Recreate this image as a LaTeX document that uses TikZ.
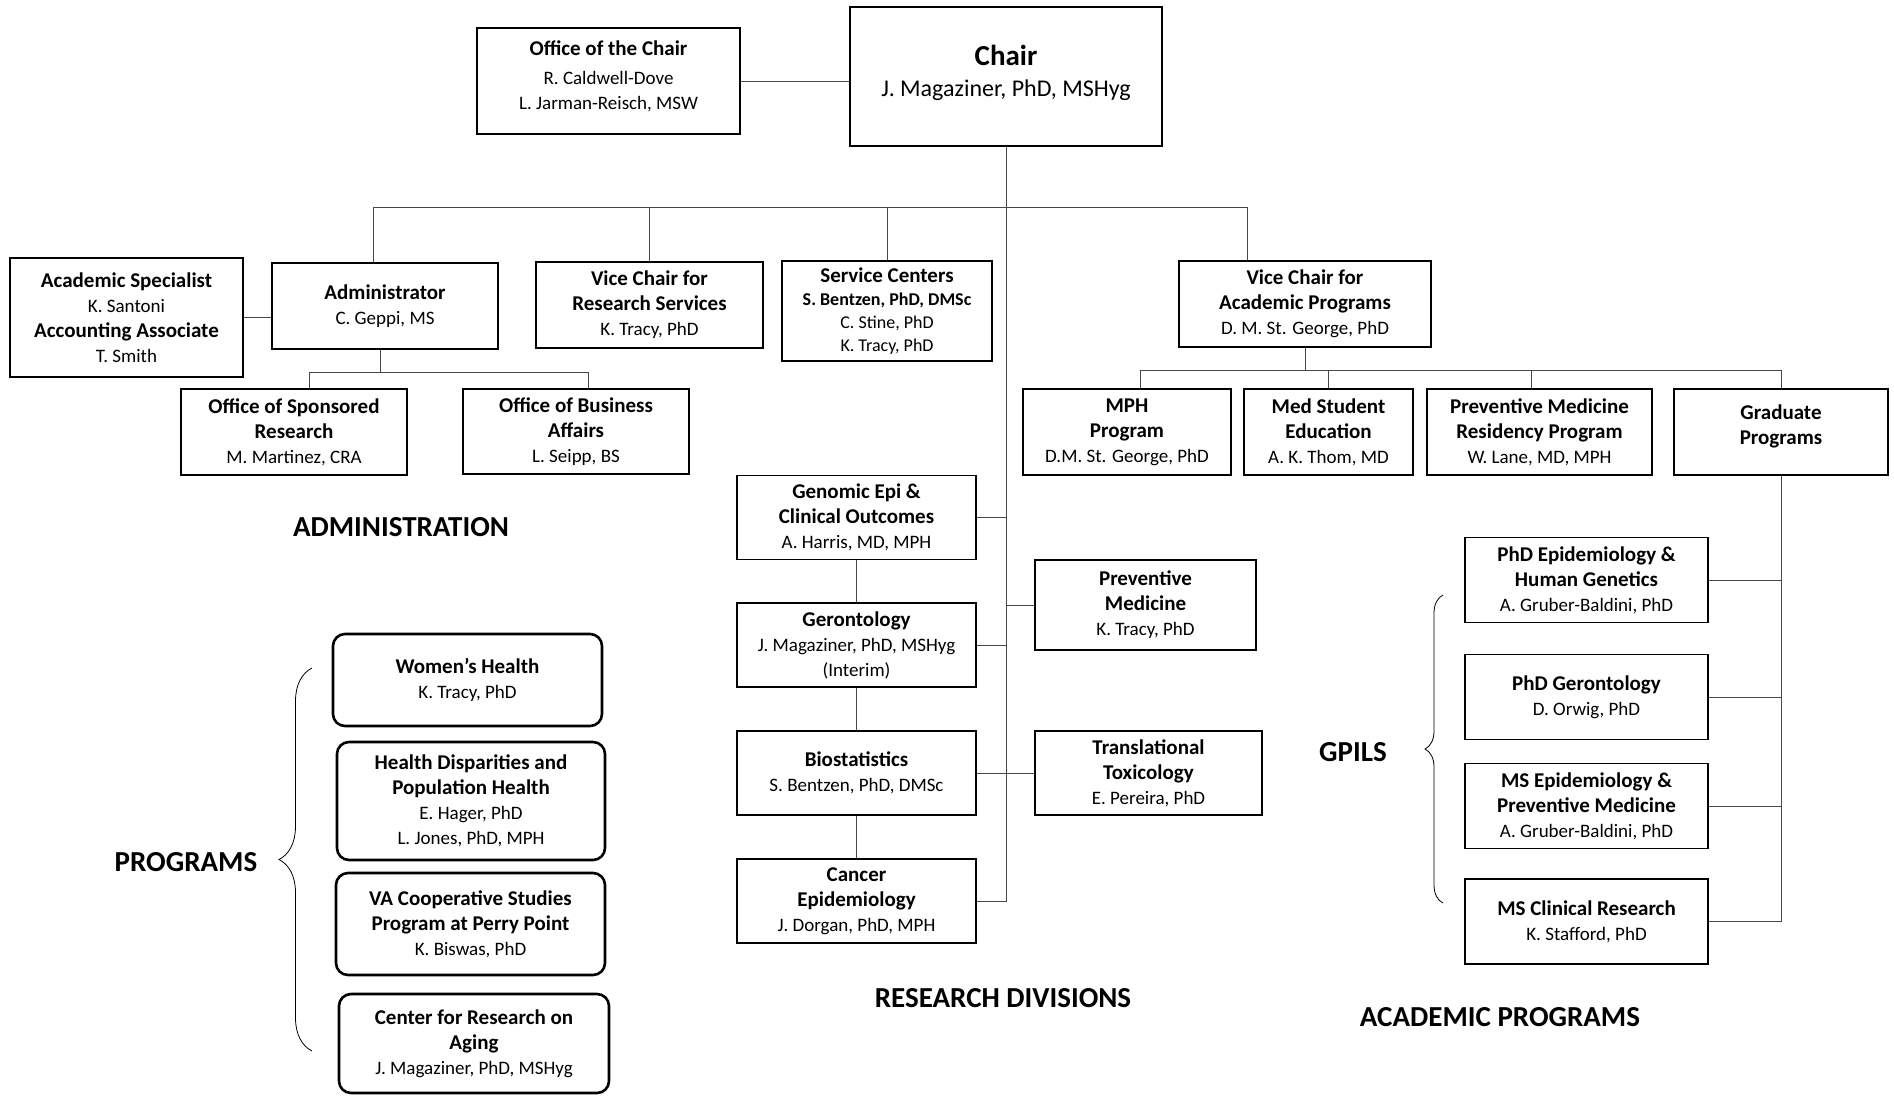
\documentclass[tikz,border=0pt]{standalone}
\usepackage{fontspec}
\setmainfont{Carlito}
\usetikzlibrary{decorations.pathreplacing}
\newcommand{\ttl}[1]{{\fontsize{21}{25}\selectfont\bfseries #1}}
\newcommand{\lift}[1]{\rule[-#1pt]{0pt}{0pt}}

\begin{document}
\begin{tikzpicture}[
    x=1pt, y=-1pt,
    line width=1pt,
    link/.style={%
      draw=black!72,
    },
    box/.style={%
      draw,
      rectangle,
      line width=1.3pt,
      align=center,
      inner sep=0pt,
      font=\fontsize{19}{25}\selectfont,
    },
    wh/.style 2 args={%
      minimum width=#1pt,
      minimum height=#2pt,
    },
    div/.style={%
      box,
      wh={239}{84},
    },
    grad/.style={%
      box,
      wh={243}{85},
    },
    prog/.style={%
      box,
      rounded corners=12pt,
      line width=2.6pt,
    },
    sect/.style={%
      font=\fontsize{29}{34}\selectfont\bfseries,
    },
    curly/.style={%
      decorate,
      line width=0.8pt,
      decoration={brace, amplitude=#1},
    },
  ]

    \useasboundingbox (0,0) rectangle (1894,1096);

    \node [box, wh={263}{106}] (office) at (608.5,81) {\ttl{Office of the Chair}\\[4pt]R. Caldwell-Dove\\L. Jarman-Reisch, MSW\lift{12}};
    \node [box, wh={312}{139}, font=\fontsize{24}{31}\selectfont] (chair) at (1006,76.5) {{\fontsize{29}{34}\selectfont\bfseries Chair}\\J. Magaziner, PhD, MSHyg\lift{12}};

    \node [box, wh={233}{119}, line width=2.6pt] (acadspec) at (126.5,317.5) {\ttl{Academic Specialist}\\K. Santoni\\\ttl{Accounting Associate}\\T. Smith};
    \node [box, wh={226}{86}] (admin) at (385,306) {\ttl{Administrator}\\C. Geppi, MS};
    \node [box, wh={227}{86}] (vcres) at (649.5,305) {\ttl{Vice Chair for}\\\ttl{Research Services}\\K. Tracy, PhD};
    \node [box, wh={210}{100}, font=\fontsize{18}{23}\selectfont] (service) at (887,311) {\ttl{Service Centers}\\{\bfseries S. Bentzen, PhD, DMSc}\\C. Stine, PhD\\K. Tracy, PhD};
    \node [box, wh={252}{86}] (vcacad) at (1305,304) {\ttl{Vice Chair for}\\\ttl{Academic Programs}\\D. M. St. George, PhD};

    \node [box, wh={226}{86}] (osr) at (294,432) {\ttl{Office of Sponsored}\\\ttl{Research}\\M. Martinez, CRA};
    \node [box, wh={226}{85}] (oba) at (576,431.5) {\ttl{Office of Business}\\\ttl{Affairs}\\L. Seipp, BS};

    \node [box, wh={208}{86}] (mph) at (1127,432) {\ttl{MPH}\\\ttl{Program}\\D.M. St. George, PhD};
    \node [box, wh={169}{86}] (med) at (1328.5,432) {\ttl{Med Student}\\\ttl{Education}\\A. K. Thom, MD};
    \node [box, wh={225}{86}] (resid) at (1539.5,432) {\ttl{Preventive Medicine}\\\ttl{Residency Program}\\W. Lane, MD, MPH};
    \node [box, wh={214}{86}] (gradprog) at (1781,432) {\ttl{Graduate}\\\ttl{Programs}\lift{14}};

    \node [div] (genomic) at (856.5,517.5) {\ttl{Genomic Epi \&}\\\ttl{Clinical Outcomes}\\A. Harris, MD, MPH};
    \node [div] (geron) at (856.5,645) {\ttl{Gerontology}\\J. Magaziner, PhD, MSHyg\\(Interim)};
    \node [div] (biostat) at (856.5,773) {\ttl{Biostatistics}\\S. Bentzen, PhD, DMSc};
    \node [div] (cancer) at (856.5,901) {\ttl{Cancer}\\\ttl{Epidemiology}\\J. Dorgan, PhD, MPH};
    \node [box, wh={221}{90}] (prevmed) at (1145.5,605) {\ttl{Preventive}\\\ttl{Medicine}\\K. Tracy, PhD};
    \node [box, wh={227}{84}] (transl) at (1148.5,773) {\ttl{Translational}\\\ttl{Toxicology}\\E. Pereira, PhD};

    \node [grad] (phdepi) at (1586.5,580) {\ttl{PhD Epidemiology \&}\\\ttl{Human Genetics}\\A. Gruber-Baldini, PhD};
    \node [grad] (phdger) at (1586.5,697) {\ttl{PhD Gerontology}\\D. Orwig, PhD};
    \node [grad] (msepi) at (1586.5,806) {\ttl{MS Epidemiology \&}\\\ttl{Preventive Medicine}\\A. Gruber-Baldini, PhD};
    \node [grad] (mscr) at (1586.5,921.5) {\ttl{MS Clinical Research}\\K. Stafford, PhD};

    \node [prog, wh={269}{92}] (women) at (467.5,680) {\ttl{Women’s Health}\\K. Tracy, PhD};
    \node [prog, wh={268}{118}] (hdph) at (471,801) {\ttl{Health Disparities and}\\\ttl{Population Health}\\E. Hager, PhD\\L. Jones, PhD, MPH};
    \node [prog, wh={269}{102}] (va) at (470.5,924) {\ttl{VA Cooperative Studies}\\\ttl{Program at Perry Point}\\K. Biswas, PhD};
    \node [prog, wh={270}{99}] (cra) at (474,1043.5) {\ttl{Center for Research on}\\\ttl{Aging}\\J. Magaziner, PhD, MSHyg};

    \node [sect] (admlbl) at (401,527) {ADMINISTRATION};
    \node [sect] (proglbl) at (186,862) {PROGRAMS};
    \node [sect] (reslbl) at (1003,998) {RESEARCH DIVISIONS};
    \node [sect] (gpilslbl) at (1353,752) {GPILS};
    \node [sect] (acadlbl) at (1500,1017) {ACADEMIC PROGRAMS};

    \coordinate (hub) at (1006,208);
    \draw [link] (office.east) -- (office.east -| chair.west);
    \draw [link] (chair.south) -- (hub);
    \draw [link] ([xshift=-12pt]admin.north) -- ++(0,-55) -| ([xshift=-58pt]vcacad.north);
    \draw [link] (vcres.north) -- (vcres.north |- hub);
    \draw [link] (service.north) -- (service.north |- hub);
    \draw [link] (acadspec.east) -- (acadspec.east -| admin.west);
    \draw [link] ([xshift=-5pt]admin.south) -- ++(0,23) coordinate (admhub);
    \draw [link] ([xshift=15pt]osr.north) |- (admhub) -| ([xshift=12pt]oba.north);

    \draw [link] (chair.south) |- (cancer.east);
    \draw [link] (genomic.east) -- (genomic.east -| chair.south);
    \draw [link] (geron.east) -- (geron.east -| chair.south);
    \draw [link] (biostat.east) -- (transl.west);
    \draw [link] (prevmed.west) -- (prevmed.west -| chair.south);
    \draw [link] (genomic) -- (geron);
    \draw [link] (geron) -- (biostat);
    \draw [link] (biostat) -- (cancer);

    \draw [link] (vcacad.south) -- ++(0,23) coordinate (acadhub);
    \draw [link] ([xshift=13pt]mph.north) |- (acadhub) -| (gradprog.north);
    \draw [link] (med.north) -- (med.north |- acadhub);
    \draw [link] ([xshift=-8pt]resid.north) -- ([xshift=-8pt]resid.north |- acadhub);
    \draw [link] (gradprog.south) |- (mscr.east);
    \draw [link] (phdepi.east) -- (phdepi.east -| gradprog.south);
    \draw [link] (phdger.east) -- (phdger.east -| gradprog.south);
    \draw [link] (msepi.east) -- (msepi.east -| gradprog.south);

    \draw [curly=33pt] (312,1051) -- (312,668);
    \draw [curly=18pt] (1443,903) -- (1443,595);
\end{tikzpicture}
\end{document}
